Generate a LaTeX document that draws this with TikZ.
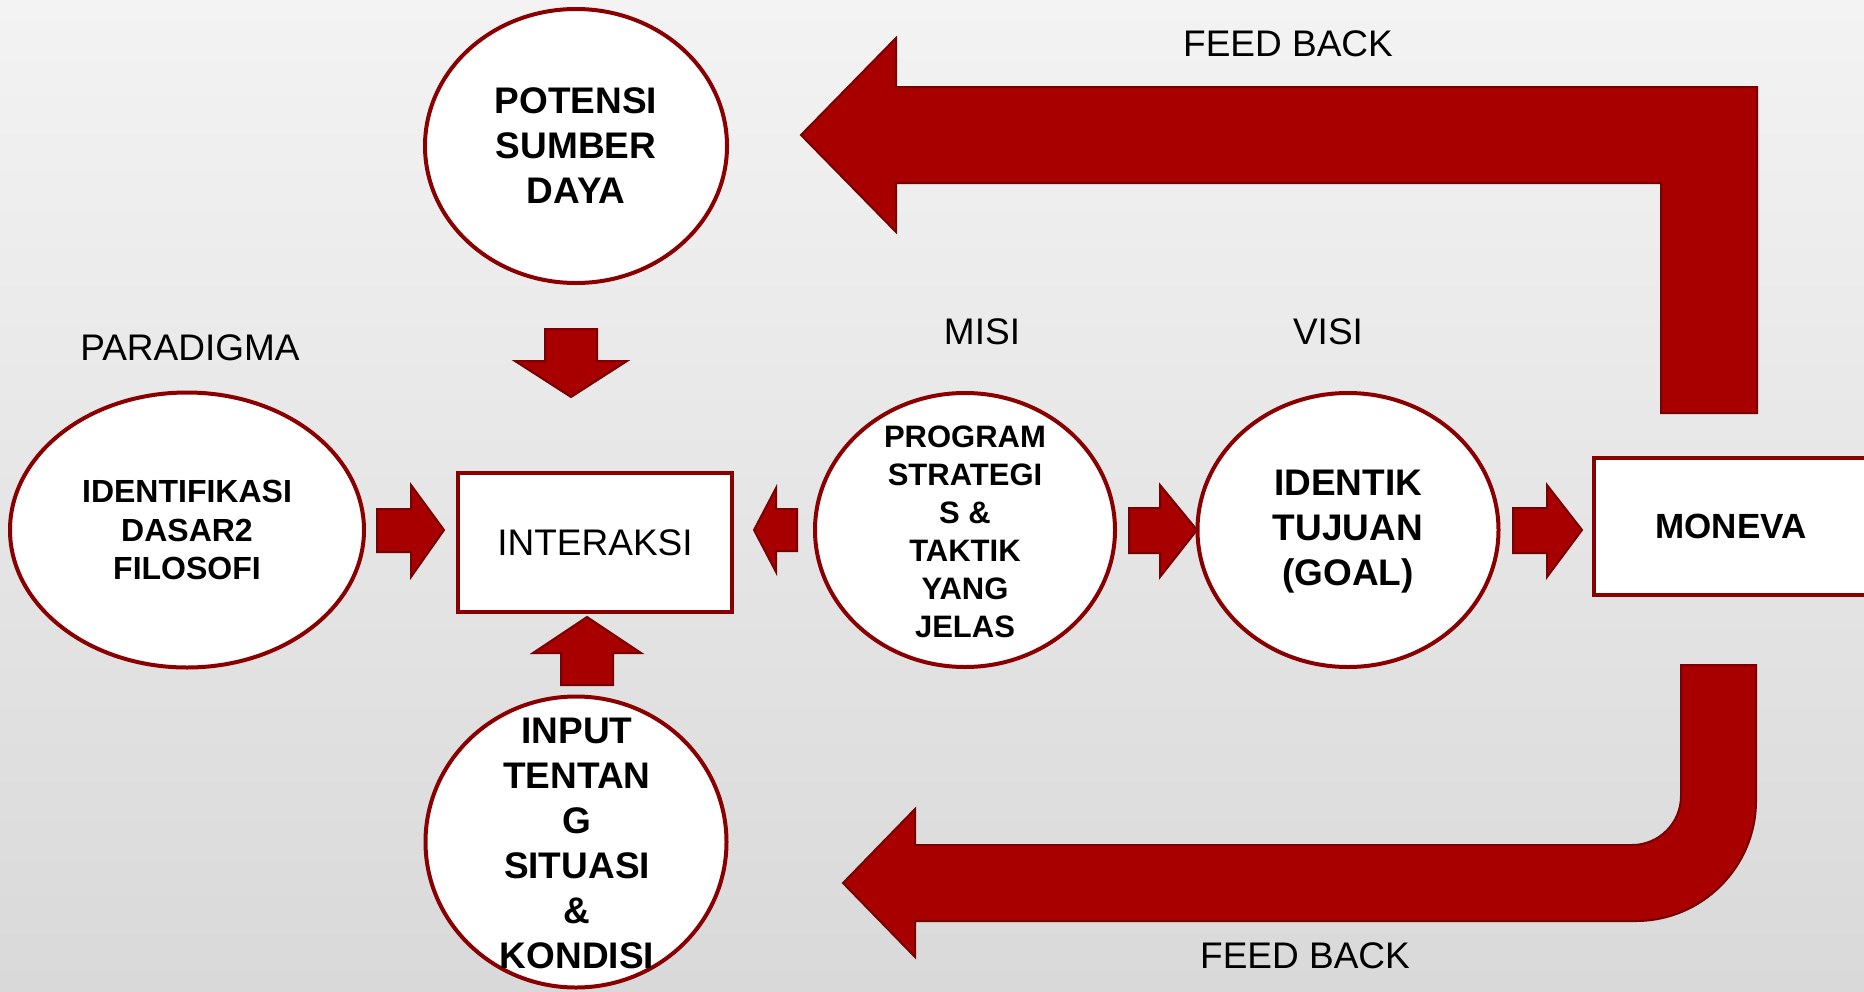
\documentclass[tikz,border=0pt]{standalone}
\usepackage{fontspec}
\setmainfont{Liberation Sans}
\usetikzlibrary{shapes.geometric}
\definecolor{arrowred}{HTML}{A80000}
\definecolor{edgered}{HTML}{780000}
\definecolor{ringred}{HTML}{8A0000}
\definecolor{bgtop}{HTML}{F3F3F3}
\definecolor{bgbot}{HTML}{D9D9D9}
\begin{document}
\begin{tikzpicture}[x=1pt,y=-1pt,
  bubble/.style={ellipse, draw=ringred, line width=4pt, fill=white, inner sep=0pt},
  panel/.style={rectangle, draw=ringred, line width=4pt, fill=white, inner sep=0pt},
  blockarrow/.style={fill=arrowred, draw=edgered, line width=2pt, line join=miter},
  caption/.style={font=\fontsize{37}{44}\selectfont, inner sep=0pt},
  boldtext/.style 2 args={font=\fontsize{#1}{#2}\selectfont\bfseries, align=center, inner sep=0pt}
]
\useasboundingbox (0,0) rectangle (1864,991);
\clip (0,0) rectangle (1864,991);
\fill[top color=bgtop, bottom color=bgbot] (0,0) rectangle (1864,991);

% feedback arrows
\fill[blockarrow] (801,135) -- (896,38) -- (896,87) -- (1757,87) -- (1757,413)
  -- (1661,413) -- (1661,183) -- (896,183) -- (896,232) -- cycle;
\fill[blockarrow] (843,883) -- (915,809) -- (915,845) -- (1632,845)
  .. controls (1659,845) and (1681,823) .. (1681,796) -- (1681,665) -- (1756,665)
  -- (1756,801) .. controls (1756,867) and (1702,921) .. (1636,921)
  -- (915,921) -- (915,957) -- cycle;

% nodes
\node[bubble, minimum width=302pt, minimum height=274pt] (potensi) at (576,146) {};
\node[boldtext={37}{45}] (potensiT) at (potensi) {POTENSI\\SUMBER\\DAYA};
\node[bubble, minimum width=354pt, minimum height=275pt] (ident) at (187,530) {};
\node[boldtext={32}{38.5}] (identT) at (ident) {IDENTIFIKASI\\DASAR2\\FILOSOFI};
\node[panel, minimum width=274pt, minimum height=139pt] (inter) at (595,542.5) {};
\node[caption] (interT) at (inter) {INTERAKSI};
\node[bubble, minimum width=300pt, minimum height=274pt] (program) at (965,530) {};
\node[boldtext={31}{38}] (programT) at (965,532) {PROGRAM\\STRATEGI\\S \&\\TAKTIK\\YANG\\JELAS};
\node[bubble, minimum width=301pt, minimum height=274pt] (tujuan) at (1348,530) {};
\node[boldtext={37}{45}] (tujuanT) at (1348,532) {IDENTIK\\TUJUAN\\(GOAL)};
\node[panel, minimum width=274pt, minimum height=137pt] (moneva) at (1731,526.5) {};
\node[font=\fontsize{35}{42}\selectfont\bfseries, inner sep=0pt] (monevaT) at (moneva) {MONEVA};
\node[bubble, minimum width=301pt, minimum height=291pt] (input) at (576,842) {};
\node[boldtext={37}{45}] (inputT) at (577,843) {INPUT\\TENTAN\\G\\SITUASI\\\&\\KONDISI};

% captions
\node[caption] (paradigma) at (190,348) {PARADIGMA};
\node[caption] (misi) at (982,332) {MISI};
\node[caption] (visi) at (1328,332) {VISI};
\node[caption] (fbtop) at (1288,44) {FEED BACK};
\node[caption] (fbbot) at (1305,956) {FEED BACK};

% small block arrows
\fill[blockarrow] (545,329) -- (597,329) -- (597,361) -- (627,361) -- (571,397)
  -- (515,361) -- (545,361) -- cycle;
\fill[blockarrow] (587,617) -- (641,653) -- (613,653) -- (613,685) -- (561,685)
  -- (561,653) -- (533,653) -- cycle;
\fill[blockarrow] (377,509) -- (411,509) -- (411,485) -- (444,530) -- (411,577)
  -- (411,552) -- (377,552) -- cycle;
\fill[blockarrow] (754,530) -- (776,488) -- (776,509) -- (797,509) -- (797,551)
  -- (776,551) -- (776,572) -- cycle;
\fill[blockarrow] (1129,508) -- (1160,508) -- (1160,485) -- (1197,530) -- (1160,577)
  -- (1160,553) -- (1129,553) -- cycle;
\fill[blockarrow] (1513,508) -- (1547,508) -- (1547,485) -- (1582,530) -- (1547,577)
  -- (1547,553) -- (1513,553) -- cycle;
\end{tikzpicture}
\end{document}
